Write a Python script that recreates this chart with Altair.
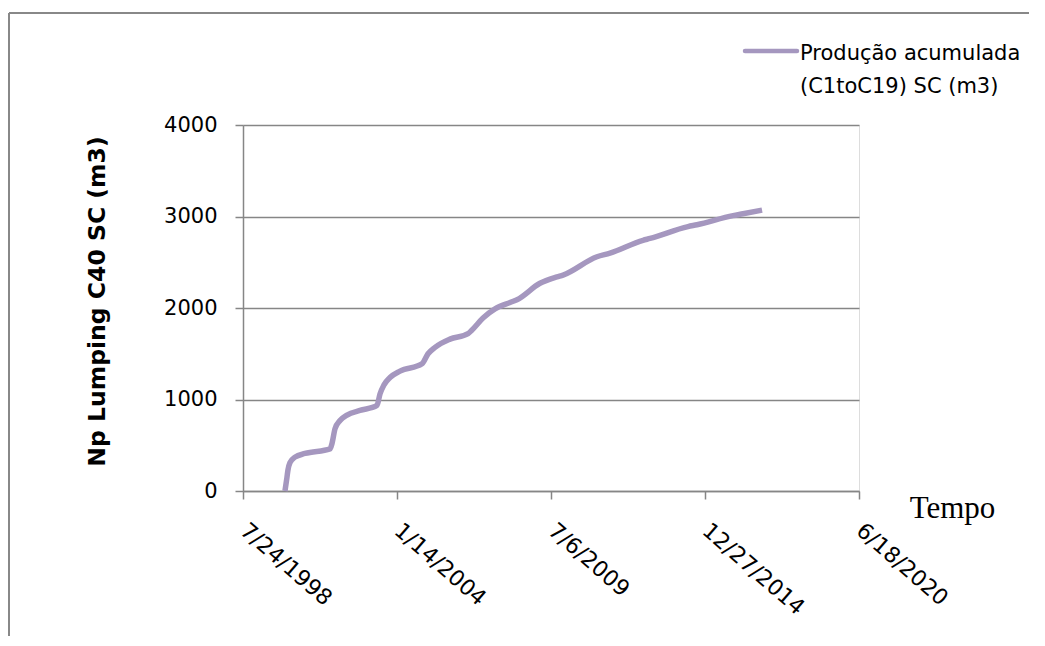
import altair as alt
import pandas as pd

# Data
dates = [
    "2000-01-20", "2000-02-15", "2000-02-28", "2000-03-25", "2000-05-29",
    "2000-10-06", "2001-08-27", "2001-09-22", "2001-10-31", "2002-01-04",
    "2002-04-05", "2002-09-20", "2003-04-29", "2003-06-07", "2003-07-29",
    "2003-10-15", "2004-02-22", "2004-12-04", "2005-02-20", "2005-05-22",
    "2005-12-02", "2006-07-24", "2006-09-14", "2007-02-04", "2007-07-10",
    "2008-01-21", "2008-04-20", "2009-02-13", "2009-09-22", "2009-12-09",
    "2011-02-23", "2011-08-11", "2012-10-13", "2013-01-12", "2014-05-20",
    "2014-09-14", "2015-12-26", "2016-05-04", "2017-01-06",
]
values = [
    0, 150, 230, 310, 370,
    410, 460, 520, 680, 770,
    830, 880, 935, 1060, 1160,
    1240, 1310, 1390, 1500, 1570,
    1660, 1720, 1760, 1890, 1990,
    2060, 2090, 2270, 2340, 2360,
    2560, 2600, 2740, 2760, 2890,
    2910, 3010, 3030, 3070,
]
series_name = "Produção acumulada\n(C1toC19) SC (m3)"
x_tick_dates = [(1998, 7, 24), (2004, 1, 14), (2009, 7, 6), (2014, 12, 27), (2020, 6, 18)]
y_ticks = [0, 1000, 2000, 3000, 4000]

df = pd.DataFrame({
    "date": [d + "T00:00:00" for d in dates],
    "value": values,
})

tick_vals = [alt.DateTime(year=y, month=m, date=d) for (y, m, d) in x_tick_dates]

GRAY = "#868686"
LINE = "#A597BF"
FONT = "DejaVu Sans"

line = alt.Chart(df).mark_line(strokeWidth=5.5, interpolate="monotone", color=LINE).encode(
    x=alt.X(
        "date:T",
        scale=alt.Scale(domain=[tick_vals[0], tick_vals[-1]]),
        axis=alt.Axis(
            values=tick_vals,
            format="%-m/%-d/%Y",
            grid=False,
            labelAngle=41,
            labelAlign="left",
            labelBaseline="middle",
            labelPadding=28,
            labelFontSize=22,
            labelFont=FONT,
            labelColor="#000000",
            labelOverlap=False,
            labelFlush=False,
            tickSize=8,
            tickColor=GRAY,
            tickWidth=1.5,
            domainColor=GRAY,
            domainWidth=1.5,
            title="Tempo",
            titleFont="Liberation Serif",
            titleFontSize=31,
            titleFontWeight="normal",
            titleColor="#000000",
            titleX=709,
            titleY=26,
            titleAlign="center",
            titleBaseline="alphabetic",
        ),
    ),
    y=alt.Y(
        "value:Q",
        scale=alt.Scale(domain=[0, 4000], nice=False),
        axis=alt.Axis(
            values=y_ticks,
            format="d",
            grid=True,
            gridColor=GRAY,
            gridWidth=1.5,
            labelFontSize=21,
            labelFont=FONT,
            labelColor="#000000",
            labelPadding=18,
            tickSize=8,
            tickColor=GRAY,
            tickWidth=1.5,
            domainColor=GRAY,
            domainWidth=1.5,
            title="Np Lumping C40 SC (m3)",
            titleFont=FONT,
            titleFontSize=23.5,
            titleFontWeight="bold",
            titleColor="#000000",
            titleAngle=-90,
            titleX=-146,
            titleY=176,
            titleAlign="center",
            titleBaseline="middle",
        ),
    ),
)

one = pd.DataFrame({"label": [series_name]})

legend_line = alt.Chart(one).mark_rule(color=LINE, strokeWidth=4.5, strokeCap="round").encode(
    x=alt.value(502), x2=alt.value(554), y=alt.value(-74)
)
legend_text = alt.Chart(one).mark_text(
    align="left", baseline="alphabetic", lineBreak="\n", lineHeight=33,
    font=FONT, fontSize=21, color="#000000",
).encode(x=alt.value(557), y=alt.value(-65), text="label:N")

frame = alt.Chart(one).mark_rule(color="#888888", strokeWidth=2).encode(
    x=alt.value(-234), y=alt.value(-112), y2=alt.value(700)
)
frame_top = alt.Chart(one).mark_rule(color="#888888", strokeWidth=2).encode(
    x=alt.value(-234), x2=alt.value(900), y=alt.value(-112)
)

chart = alt.layer(frame, frame_top, line, legend_line, legend_text).properties(
    width=616,
    height=366,
    padding={"left": 235, "top": 117, "right": 170, "bottom": 145},
    autosize=alt.AutoSizeParams(type="none"),
).configure_view(stroke=None).configure(background="white")

chart.save("out.html", embed_options={"renderer": "svg", "actions": False})
